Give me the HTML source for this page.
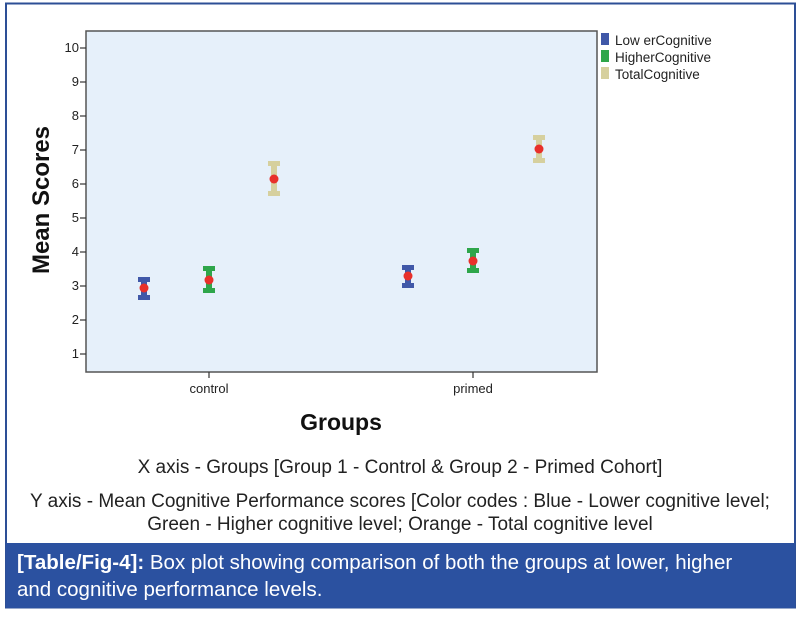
<!DOCTYPE html>
<html><head><style>
body{margin:0;background:#fff;width:801px;height:613px;overflow:hidden;font-family:"Liberation Sans",sans-serif}
</style></head><body>
<svg width="801" height="613" xmlns="http://www.w3.org/2000/svg" font-family="Liberation Sans, sans-serif">
<rect x="6" y="3.5" width="789" height="604" fill="#fff" stroke="#2d4f96" stroke-width="2"/>
<rect x="86" y="31" width="511" height="341" fill="#e6f0fa" stroke="#555" stroke-width="1.5"/>
<g font-size="13" fill="#222" text-anchor="end">
<g stroke="#333" stroke-width="1.2">
<line x1="80" y1="48" x2="86" y2="48"/><line x1="80" y1="82" x2="86" y2="82"/><line x1="80" y1="116" x2="86" y2="116"/><line x1="80" y1="150" x2="86" y2="150"/><line x1="80" y1="184" x2="86" y2="184"/><line x1="80" y1="218" x2="86" y2="218"/><line x1="80" y1="252" x2="86" y2="252"/><line x1="80" y1="286" x2="86" y2="286"/><line x1="80" y1="320" x2="86" y2="320"/><line x1="80" y1="354" x2="86" y2="354"/>
<line x1="209" y1="372" x2="209" y2="378"/><line x1="473" y1="372" x2="473" y2="378"/>
</g>
<text x="79" y="52">10</text><text x="79" y="86">9</text><text x="79" y="120">8</text><text x="79" y="154">7</text><text x="79" y="188">6</text><text x="79" y="222">5</text><text x="79" y="256">4</text><text x="79" y="290">3</text><text x="79" y="324">2</text><text x="79" y="358">1</text>
</g>
<g font-size="13" fill="#222" text-anchor="middle"><text x="209" y="393">control</text><text x="473" y="393">primed</text></g>
<text x="49" y="200" font-size="24" font-weight="bold" text-anchor="middle" transform="rotate(-90 49 200)" fill="#111">Mean Scores</text>
<text x="341" y="430" font-size="23" font-weight="bold" text-anchor="middle" fill="#111">Groups</text>
<g stroke-linecap="butt">
<g stroke="#4058a8" fill="#4058a8"><line x1="144" y1="279" x2="144" y2="298" stroke-width="6"/><rect x="138" y="277" width="12" height="5" stroke="none"/><rect x="138" y="295" width="12" height="5" stroke="none"/>
<line x1="408" y1="267" x2="408" y2="286" stroke-width="6"/><rect x="402" y="265" width="12" height="5" stroke="none"/><rect x="402" y="283" width="12" height="5" stroke="none"/></g>
<g stroke="#2ea64a" fill="#2ea64a"><line x1="209" y1="268" x2="209" y2="291" stroke-width="6"/><rect x="203" y="266" width="12" height="5" stroke="none"/><rect x="203" y="288" width="12" height="5" stroke="none"/>
<line x1="473" y1="250" x2="473" y2="271" stroke-width="6"/><rect x="467" y="248" width="12" height="5" stroke="none"/><rect x="467" y="268" width="12" height="5" stroke="none"/></g>
<g stroke="#d6d09e" fill="#d6d09e"><line x1="274" y1="163" x2="274" y2="194" stroke-width="6"/><rect x="268" y="161" width="12" height="5" stroke="none"/><rect x="268" y="191" width="12" height="5" stroke="none"/>
<line x1="539" y1="137" x2="539" y2="161" stroke-width="6"/><rect x="533" y="135" width="12" height="5" stroke="none"/><rect x="533" y="158" width="12" height="5" stroke="none"/></g>
</g>
<g fill="#e8302a"><circle cx="144" cy="288" r="4.5"/><circle cx="209" cy="280" r="4.5"/><circle cx="274" cy="179" r="4.5"/><circle cx="408" cy="276" r="4.5"/><circle cx="473" cy="261" r="4.5"/><circle cx="539" cy="149" r="4.5"/></g>
<g font-size="13.5" fill="#222">
<rect x="601" y="33" width="8" height="12" fill="#4058a8"/><text x="615" y="45">Low erCognitive</text>
<rect x="601" y="50" width="8" height="12" fill="#2ea64a"/><text x="615" y="62">HigherCognitive</text>
<rect x="601" y="67" width="8" height="12" fill="#d6d09e"/><text x="615" y="79">TotalCognitive</text>
</g>
<g font-size="19" fill="#222" text-anchor="middle">
<text x="400" y="473">X axis - Groups [Group 1 - Control &amp; Group 2 - Primed Cohort]</text>
<text x="400" y="507">Y axis - Mean Cognitive Performance scores [Color codes : Blue - Lower cognitive level;</text>
<text x="400" y="530">Green - Higher cognitive level; Orange - Total cognitive level</text>
</g>
<rect x="6" y="543" width="789" height="65" fill="#2b51a0"/>
<g font-size="20.5" fill="#fff"><text x="17" y="569"><tspan font-weight="bold">[Table/Fig-4]:</tspan> Box plot showing comparison of both the groups at lower, higher</text>
<text x="17" y="596">and cognitive performance levels.</text></g>
</svg>
</body></html>
